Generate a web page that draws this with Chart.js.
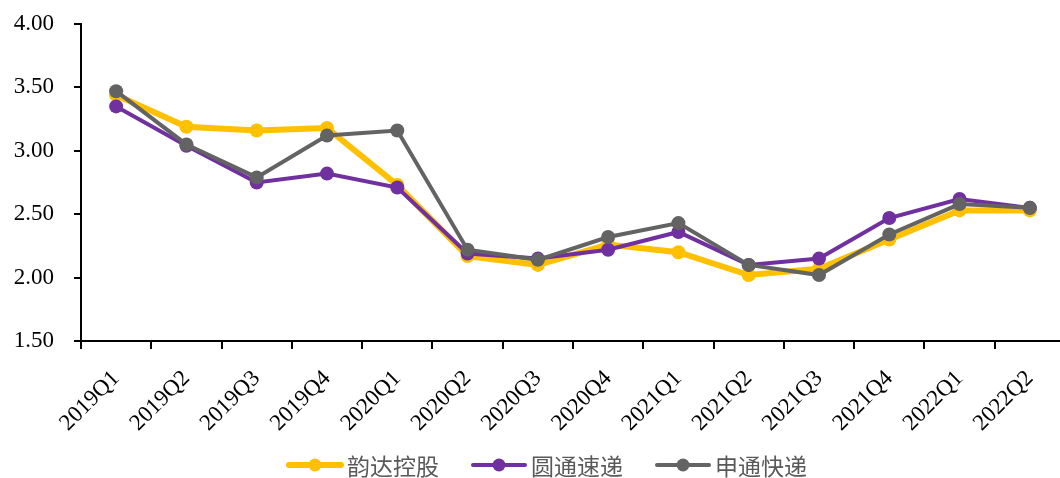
<!DOCTYPE html>
<html><head><meta charset="utf-8">
<script src="https://cdn.jsdelivr.net/npm/chart.js@4/dist/chart.umd.min.js"></script>
<style>html,body{margin:0;padding:0;background:#fff;overflow:hidden}#wrap{width:1072px;height:478px}</style>
</head><body><div id="wrap"><canvas id="c" width="1072" height="478" style="width:1072px;height:478px"></canvas></div>
<script>
const categories = ['2019Q1','2019Q2','2019Q3','2019Q4','2020Q1','2020Q2','2020Q3','2020Q4','2021Q1','2021Q2','2021Q3','2021Q4','2022Q1','2022Q2'];
const seriesNames = ['韵达控股','圆通速递','申通快递'];
const yunda = [3.44,3.19,3.16,3.18,2.73,2.17,2.10,2.26,2.20,2.02,2.07,2.30,2.53,2.53];
const yto   = [3.35,3.04,2.75,2.82,2.71,2.19,2.15,2.22,2.36,2.10,2.15,2.47,2.62,2.55];
const sto   = [3.47,3.05,2.79,3.12,3.16,2.22,2.14,2.32,2.43,2.10,2.02,2.34,2.58,2.55];
const yTicks = [1.5,2.0,2.5,3.0,3.5,4.0];
const colors = ['#FFC000','#7030A0','#636363'];
const widths = [6,4,4];
const drawOrder = [2,1,0];

const bottomLegend = {
  id: 'bottomLegend',
  afterDraw(chart) {
    const ctx = chart.ctx;
    const font = '23px "Noto Sans CJK SC", sans-serif';
    ctx.save();
    ctx.font = font;
    const iconW = 56, gapIT = 4, gapItems = 32;
    const items = chart.data.datasets.map((ds, i) => ({ ds, i, tw: ctx.measureText(ds.label).width }));
    const total = items.reduce((s, it) => s + iconW + gapIT + it.tw, 0) + gapItems * (items.length - 1);
    let x = 547 - total / 2;
    const y = 465;
    items.forEach(it => {
      const c = it.ds.borderColor;
      ctx.strokeStyle = c; ctx.lineWidth = widths[it.i]; ctx.lineCap = 'round';
      ctx.beginPath(); ctx.moveTo(x + 2, y); ctx.lineTo(x + iconW - 2, y); ctx.stroke();
      ctx.fillStyle = c; ctx.beginPath(); ctx.arc(x + iconW / 2, y, 6.5, 0, Math.PI * 2); ctx.fill();
      x += iconW + gapIT;
      ctx.fillStyle = '#595959'; ctx.textBaseline = 'middle'; ctx.textAlign = 'left';
      ctx.fillText(it.ds.label, x, y + 1);
      x += it.tw + gapItems;
    });
    ctx.restore();
  }
};

const dataSets = [yunda, yto, sto].map((d,i)=>({
  label: seriesNames[i], data: d, order: drawOrder[i],
  borderColor: colors[i], backgroundColor: colors[i],
  borderWidth: widths[i], pointRadius: 7, pointHoverRadius: 7,
  pointBackgroundColor: colors[i], pointBorderWidth: 0,
  tension: 0, pointStyle: 'circle'
}));

new Chart(document.getElementById('c'), {
  type: 'line',
  data: { labels: categories, datasets: dataSets },
  plugins: [bottomLegend],
  options: {
    responsive: false, animation: false,
    layout: { padding: { left: 0, right: 0, top: 24, bottom: 0 } },
    plugins: {
      tooltip: { enabled: false },
      legend: { display: false }
    },
    scales: {
      x: {
        offset: true,
        grid: { display: true, drawOnChartArea: false, offset: true, color: '#000', lineWidth: 2, tickLength: 8, tickColor: '#000' },
        border: { display: true, color: '#000', width: 2 },
        ticks: { color: '#000', font: { family: '"Liberation Serif", serif', size: 23 }, minRotation: 45, maxRotation: 45, padding: 16 },
        afterFit: (s)=>{ s.height = 137; }
      },
      y: {
        min: 1.5, max: 4.0,
        afterBuildTicks: (s)=>{ s.ticks = yTicks.map(v=>({value:v})); },
        grid: { display: true, drawOnChartArea: false, color: '#000', lineWidth: 2, tickLength: 7, tickColor: '#000' },
        border: { display: true, color: '#000', width: 2 },
        ticks: { color: '#000', font: { family: '"Liberation Serif", serif', size: 23 }, padding: 20, callback: (v)=>Number(v).toFixed(2) },
        afterFit: (s)=>{ s.width = 81; s.paddingTop = 0; s.paddingBottom = 0; }
      }
    }
  }
});
</script></body></html>
